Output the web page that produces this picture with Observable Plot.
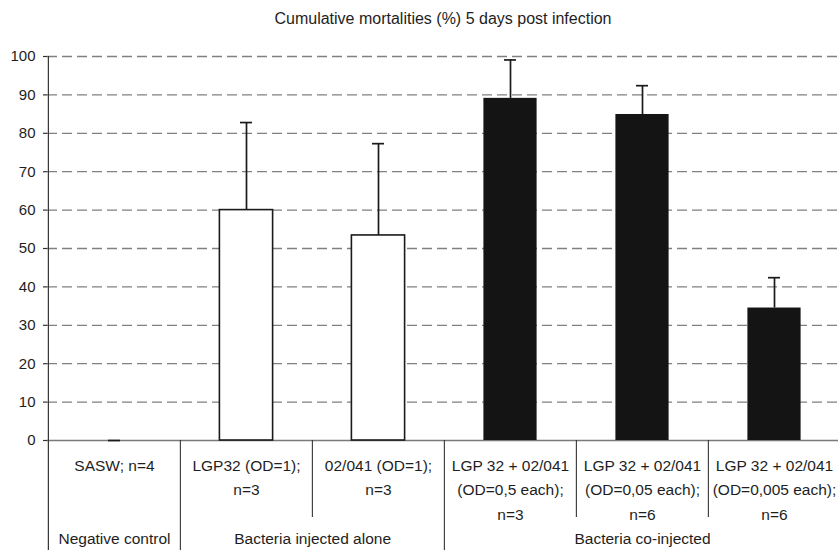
<!DOCTYPE html>
<html>
<head>
<meta charset="utf-8">
<script src="https://cdn.jsdelivr.net/npm/d3@7"></script>
<script src="https://cdn.jsdelivr.net/npm/@observablehq/plot@0.6"></script>
<style>
  html, body { margin: 0; padding: 0; background: #fff; }
  #chart svg { display: block; }
</style>
</head>
<body>
<div id="chart"></div>
<script>
// ---- data ----
const titleText = "Cumulative mortalities (%) 5 days post infection";
const categories = [
  "SASW; n=4",
  "LGP32 (OD=1);\nn=3",
  "02/041 (OD=1);\nn=3",
  "LGP 32 + 02/041\n(OD=0,5 each);\nn=3",
  "LGP 32 + 02/041\n(OD=0,05 each);\nn=6",
  "LGP 32 + 02/041\n(OD=0,005 each);\nn=6"
];
const mortality = [0, 60.0, 53.4, 89.1, 84.9, 34.5];
const errorUp = [0, 22.8, 23.9, 10.0, 7.5, 7.9];
const groupIndex = [0, 1, 1, 2, 2, 2];
const groupLabels = ["Negative control", "Bacteria injected alone", "Bacteria co-injected"];
const yTicks = [0, 10, 20, 30, 40, 50, 60, 70, 80, 90, 100];

// ---- table built from the arrays ----
const rows = categories.map((c, i) => ({
  cat: c, value: mortality[i], hi: mortality[i] + errorUp[i], group: groupIndex[i]
}));
const whiteBars = rows.filter(d => d.group === 1);
const blackBars = rows.filter(d => d.group === 2);
// boundaries between columns: full where the group changes, short otherwise
const fullDividers = rows.filter((d, i) => i > 0 && d.group !== rows[i - 1].group).map(d => d.cat);
const shortDividers = rows.filter((d, i) => i > 0 && d.group === rows[i - 1].group).map(d => d.cat);
const halfStep = (841 - 47.5) / categories.length / 2;
const barInset = 39.4;
const capInset = 60;
const ink = "#1a1a1a";

const chart = Plot.plot({
  width: 838,
  height: 550,
  marginTop: 56,
  marginBottom: 110,
  marginLeft: 47,
  marginRight: 0,
  style: {fontFamily: "'Liberation Sans', Arial, Helvetica, sans-serif", color: "#1e1e1e", background: "#fff"},
  x: {domain: categories, range: [47.5, 841], padding: 0, axis: null},
  y: {domain: [0, 100], axis: null},
  marks: [
    // dashed grid
    Plot.ruleY(yTicks.filter(t => t > 0), {stroke: "#808080", strokeWidth: 1.3, strokeDasharray: "10,5"}),
    // y axis ticks & labels
    Plot.axisY({ticks: yTicks, tickSize: 4, tickPadding: 8, fontSize: 15, stroke: "#333", strokeWidth: 1.2}),
    // zero line
    Plot.ruleY([0], {stroke: "#7a7a7a", strokeWidth: 1.4}),
    // bars
    Plot.barY(whiteBars, {x: "cat", y: "value", fill: "#fff", stroke: ink, strokeWidth: 1.6, insetLeft: barInset, insetRight: barInset}),
    Plot.barY(blackBars, {x: "cat", y: "value", fill: "#141414", insetLeft: barInset, insetRight: barInset}),
    // error bars
    Plot.ruleX(rows, {x: "cat", y1: "value", y2: "hi", stroke: ink, strokeWidth: 1.7}),
    Plot.tickY(rows, {x: "cat", y: "hi", stroke: ink, strokeWidth: 1.7, insetLeft: capInset, insetRight: capInset}),
    // y axis line continuing through the table
    Plot.ruleX([categories[0]], {x: d => d, y1: 100, y2: 0, dx: -halfStep, insetBottom: -110, stroke: "#333", strokeWidth: 1.2}),
    // table dividers
    Plot.ruleX(fullDividers, {x: d => d, y1: 0, y2: 0, dx: -halfStep, insetBottom: -110, stroke: "#333", strokeWidth: 1.1}),
    Plot.ruleX(shortDividers, {x: d => d, y1: 0, y2: 0, dx: -halfStep, insetBottom: -77, stroke: "#333", strokeWidth: 1.1}),
    // category labels
    Plot.text(categories, {x: d => d, text: d => d, frameAnchor: "bottom", lineAnchor: "top", dy: 12.5, lineHeight: 1.6, fontSize: 15.5, fill: "#1e1e1e"}),
    // group labels
    Plot.text([groupLabels[0]], {x: [categories[0]], text: d => d, frameAnchor: "bottom", lineAnchor: "middle", dy: 99, fontSize: 15.5, fill: "#1e1e1e"}),
    Plot.text([groupLabels[1]], {x: [categories[1]], text: d => d, frameAnchor: "bottom", lineAnchor: "middle", dy: 99, dx: halfStep, fontSize: 15.5, fill: "#1e1e1e"}),
    Plot.text([groupLabels[2]], {x: [categories[4]], text: d => d, frameAnchor: "bottom", lineAnchor: "middle", dy: 99, fontSize: 15.5, fill: "#1e1e1e"}),
    // title
    Plot.text([titleText], {text: d => d, frameAnchor: "top", lineAnchor: "bottom", dy: -33, fontSize: 16, fill: "#1e1e1e"})
  ]
});
document.getElementById("chart").append(chart);
</script>
</body>
</html>
